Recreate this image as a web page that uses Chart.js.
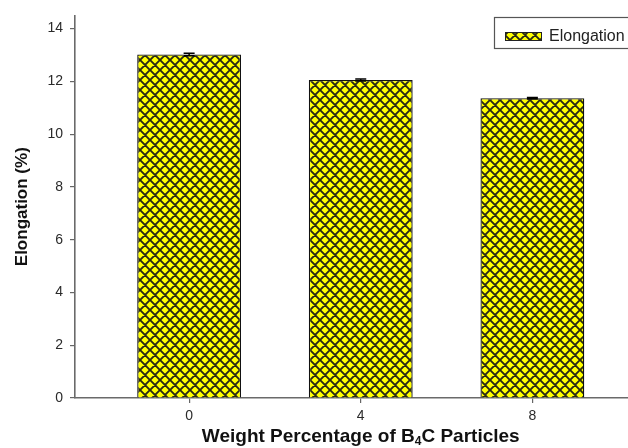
<!DOCTYPE html>
<html>
<head>
<meta charset="utf-8">
<script src="https://cdn.jsdelivr.net/npm/chart.js@4/dist/chart.umd.min.js"></script>
<style>
  html, body { margin: 0; padding: 0; background: #fff; overflow: hidden; width: 628px; height: 448px; }
  #wrap { position: relative; width: 660px; height: 448px; }
  canvas { display: block; }
  #xtitle {
    position: absolute; top: 425px; white-space: nowrap;
    font: bold 19px "Liberation Sans", Arial, sans-serif; color: #111;
    transform: translateX(-50%);
  }
  #xtitle sub { font-size: 12px; vertical-align: -3px; line-height: 0; }
</style>
</head>
<body>
<div id="wrap">
  <canvas id="c" width="660" height="448"></canvas>
  <div id="xtitle">Weight Percentage of B<sub>4</sub>C Particles</div>
</div>
<script>
// B4C content (wt.%) and measured elongation
const categories = [0, 4, 8];
const elongation = [13.02, 12.05, 11.36];
const elongationErr = [0.05, 0.04, 0.03];
const yTicks = [0, 2, 4, 6, 8, 10, 12, 14];
const seriesName = 'Elongation';

const FONT = '"Liberation Sans", Arial, sans-serif';

// yellow fill with a dark diagonal cross-hatch
function crossHatch() {
  const s = 10;
  const t = document.createElement('canvas');
  t.width = t.height = s;
  const g = t.getContext('2d');
  g.fillStyle = '#ffff00';
  g.fillRect(0, 0, s, s);
  g.strokeStyle = '#2a2a14';
  g.lineWidth = 1.9;
  g.beginPath();
  for (let k = -1; k <= 1; k++) {
    g.moveTo(k * s - 1, -1); g.lineTo(k * s + s + 1, s + 1);
    g.moveTo(k * s - 1, s + 1); g.lineTo(k * s + s + 1, -1);
  }
  g.stroke();
  return g.createPattern(t, 'repeat');
}
const hatch = crossHatch();

const errorBars = {
  id: 'errorBars',
  afterDatasetsDraw(chart) {
    const ctx = chart.ctx, y = chart.scales.y;
    const meta = chart.getDatasetMeta(0);
    ctx.save();
    ctx.strokeStyle = '#000';
    ctx.lineWidth = 1.5;
    meta.data.forEach((bar, i) => {
      const v = elongation[i], e = elongationErr[i];
      const y1 = y.getPixelForValue(v + e), y2 = y.getPixelForValue(v - e);
      ctx.beginPath();
      ctx.moveTo(bar.x, y1); ctx.lineTo(bar.x, y2);
      ctx.moveTo(bar.x - 5.5, y1); ctx.lineTo(bar.x + 5.5, y1);
      ctx.moveTo(bar.x - 5.5, y2); ctx.lineTo(bar.x + 5.5, y2);
      ctx.stroke();
    });
    ctx.restore();
  }
};

const legendBox = {
  id: 'legendBox',
  afterDraw(chart) {
    const ctx = chart.ctx;
    ctx.save();
    ctx.strokeStyle = '#555';
    ctx.lineWidth = 1.2;
    ctx.strokeRect(494.5, 17.5, 150, 31);
    ctx.fillStyle = hatch;
    ctx.fillRect(505, 32, 37, 9);
    ctx.strokeStyle = '#222';
    ctx.lineWidth = 1;
    ctx.strokeRect(505.5, 32.5, 36, 8);
    ctx.fillStyle = '#222';
    ctx.font = '16px ' + FONT;
    ctx.textBaseline = 'middle';
    ctx.fillText(seriesName, 549, 36.5);
    ctx.restore();
  }
};

const chart = new Chart(document.getElementById('c'), {
  type: 'bar',
  data: {
    datasets: [{
      label: seriesName,
      data: categories.map((c, i) => ({ x: c, y: elongation[i] })),
      backgroundColor: hatch,
      borderColor: '#111',
      borderWidth: 1.3,
      categoryPercentage: 1,
      barPercentage: 0.605
    }]
  },
  options: {
    responsive: false,
    animation: false,
    layout: { padding: { left: 0, right: 13.5, top: 13.75, bottom: 0 } },
    plugins: { legend: { display: false }, tooltip: { enabled: false } },
    scales: {
      x: {
        type: 'linear',
        offset: false,
        min: -2.66,
        max: 10.66,
        afterBuildTicks: s => { s.ticks = categories.map(v => ({ value: v })); },
        afterFit: s => { s.height = 50; },
        grid: { offset: false, drawOnChartArea: false, drawTicks: true, tickLength: 5, color: '#666', lineWidth: 1.2 },
        border: { display: true, color: '#6a6a6a', width: 1.6 },
        ticks: { padding: 5, color: '#2a2a2a', font: { family: FONT, size: 14 } }
      },
      y: {
        min: 0,
        max: 14.5,
        afterBuildTicks: s => { s.ticks = yTicks.map(v => ({ value: v })); },
        afterFit: s => { s.width = 75; },
        grid: { drawOnChartArea: false, drawTicks: true, tickLength: 5, color: '#666', lineWidth: 1.2 },
        border: { display: true, color: '#6a6a6a', width: 1.6 },
        ticks: { padding: 7, color: '#2a2a2a', font: { family: FONT, size: 14 } },
        title: {
          display: true,
          text: 'Elongation (%)',
          color: '#111',
          padding: { top: 12, bottom: 0 },
          font: { family: FONT, size: 17, weight: 'bold' }
        }
      }
    }
  },
  plugins: [errorBars, legendBox]
});

const xt = document.getElementById('xtitle');
xt.style.left = chart.scales.x.getPixelForValue(4) + 'px';
</script>
</body>
</html>
